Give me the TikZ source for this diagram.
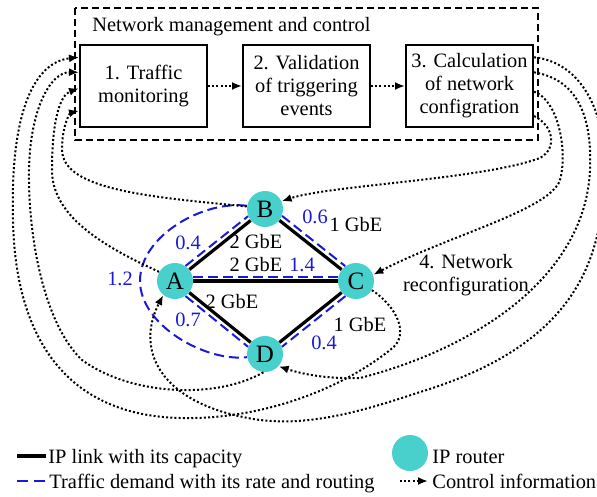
\documentclass[tikz,border=0pt]{standalone}
\usepackage{fontspec}
\setmainfont{Liberation Serif}
\usetikzlibrary{arrows.meta}
\definecolor{router}{RGB}{72,209,204}
\definecolor{demand}{RGB}{25,25,215}

\begin{document}
\begin{tikzpicture}[x=.5pt,y=-.5pt,font=\fontsize{10.2}{11.5}\selectfont,
  block/.style={draw,line width=1pt,minimum width=63.5pt,minimum height=41pt,align=center,inner sep=0pt},
  rtr/.style={circle,fill=router,minimum size=18pt,inner sep=0pt,font=\fontsize{12.5}{14}\selectfont},
  link/.style={line width=1.6pt},
  dem/.style={demand,line width=1pt,dash pattern=on 5pt off 2.5pt},
  ctrl/.style={line width=1pt,dash pattern=on 1pt off 1.1pt,-{Latex[length=5pt,width=4pt]}},
  lbl/.style={inner sep=0pt},
  dlbl/.style={inner sep=0pt,text=demand}]
  \useasboundingbox (0,0) rectangle (597,496);

  % management part
  \draw[line width=1pt,dash pattern=on 3.5pt off 2pt] (75,8) rectangle (538,140);
  \node[lbl,anchor=base west] (title) at (92,32) {Network management and control};
  \node[block] (mon) at (143.5,86) {1. Traffic\\monitoring};
  \node[block] (valid) at (306.5,86) {2. Validation\\of triggering\\events};
  \node[block] (conf) at (469.5,86) {3. Calculation\\of network\\configration};
  \draw[ctrl] (mon) -- (valid);
  \draw[ctrl] (valid) -- (conf);

  % IP network
  \node[rtr] (A) at (175,281) {A};
  \node[rtr] (B) at (265,209) {B};
  \node[rtr] (C) at (356,281) {C};
  \node[rtr] (D) at (265,354) {D};
  \draw[link] (A) -- (B);
  \draw[link] (B) -- (C);
  \draw[link] (A) -- (C);
  \draw[link] (A) -- (D);
  \draw[link] (D) -- (C);
  \draw[dem] (A.55) -- (B.203);
  \draw[dem] (B.338) -- (C.126);
  \draw[dem] (A.13) -- (C.167);
  \draw[dem] (C.235) -- (D.23);
  \draw[dem] (A.305) -- (D.157);
  \draw[dem] (B.170) .. controls (205,200) and (140,235) .. (140,281)
    .. controls (140,325) and (205,362) .. (D.190);
  \node[lbl] (cAB) at (256,242) {2 GbE};
  \node[lbl] (cAC) at (256,265) {2 GbE};
  \node[lbl] (cAD) at (232,302) {2 GbE};
  \node[lbl] (cBC) at (356,225) {1 GbE};
  \node[lbl] (cCD) at (360,325) {1 GbE};
  \node[dlbl] (dAB) at (188,243) {0.4};
  \node[dlbl] (dBAD) at (120,279) {1.2};
  \node[dlbl] (dAC) at (302,265) {1.4};
  \node[dlbl] (dAD) at (188,320) {0.7};
  \node[dlbl] (dBC) at (315,217) {0.6};
  \node[dlbl] (dCD) at (324,343) {0.4};
  \node[lbl,align=center] (reconf) at (466,275) {4. Network\\reconfiguration};

  % monitoring
  \draw[ctrl] (C.330) .. controls (395,305) and (412,335) .. (390,350)
    .. controls (340,390) and (260,420) .. (180,418)
    .. controls (60,415) and (15,330) .. (13,220)
    .. controls (10,110) and (35,62) .. (mon.156);
  \draw[ctrl] (D.265) .. controls (215,400) and (130,395) .. (82,360)
    .. controls (45,325) and (28,240) .. (29,170)
    .. controls (30,110) and (50,72) .. (mon.168);
  \draw[ctrl] (A.150) .. controls (100,245) and (52,215) .. (52,170)
    .. controls (52,120) and (60,95) .. (mon.182);
  \draw[ctrl] (B.172) .. controls (150,197) and (63,190) .. (62,150)
    .. controls (62,125) and (70,113) .. (mon.201);

  % reconfiguration
  \draw[ctrl] (conf.24) .. controls (580,62) and (606,110) .. (604,170)
    .. controls (604,260) and (575,345) .. (420,392)
    .. controls (360,412) and (300,430) .. (243,417)
    .. controls (160,400) and (135,350) .. (A.230);
  \draw[ctrl] (conf.12) .. controls (580,80) and (592,120) .. (590,170)
    .. controls (585,280) and (470,350) .. (360,378)
    .. controls (330,379) and (305,375) .. (D.318);
  \draw[ctrl] (conf.355) .. controls (558,100) and (568,150) .. (560,180)
    .. controls (550,210) and (450,235) .. (C.20);
  \draw[ctrl] (conf.335) .. controls (553,125) and (558,148) .. (540,158)
    .. controls (480,180) and (330,185) .. (B.25);

  % legend
  \node[lbl,anchor=base west] (lglink) at (48,463) {IP link with its capacity};
  \draw[link] ([xshift=-15.5pt,yshift=3.5pt]lglink.base west) -- ([xshift=-1pt,yshift=3.5pt]lglink.base west);
  \node[lbl,anchor=base west] (lgdem) at (49,488) {Traffic demand with its rate and routing};
  \draw[dem,dash pattern=on 5.5pt off 3pt] ([xshift=-16pt,yshift=3.5pt]lgdem.base west) -- ([xshift=-1.5pt,yshift=3.5pt]lgdem.base west);
  \node[rtr] (lgrtr) at (410,453) {};
  \node[lbl,anchor=base west] (lgrtrtxt) at (432,463) {IP router};
  \node[lbl,anchor=base west] (lgctrl) at (432,488) {Control information};
  \draw[ctrl] ([xshift=-16pt,yshift=3.5pt]lgctrl.base west) -- ([xshift=-2pt,yshift=3.5pt]lgctrl.base west);
\end{tikzpicture}
\end{document}
